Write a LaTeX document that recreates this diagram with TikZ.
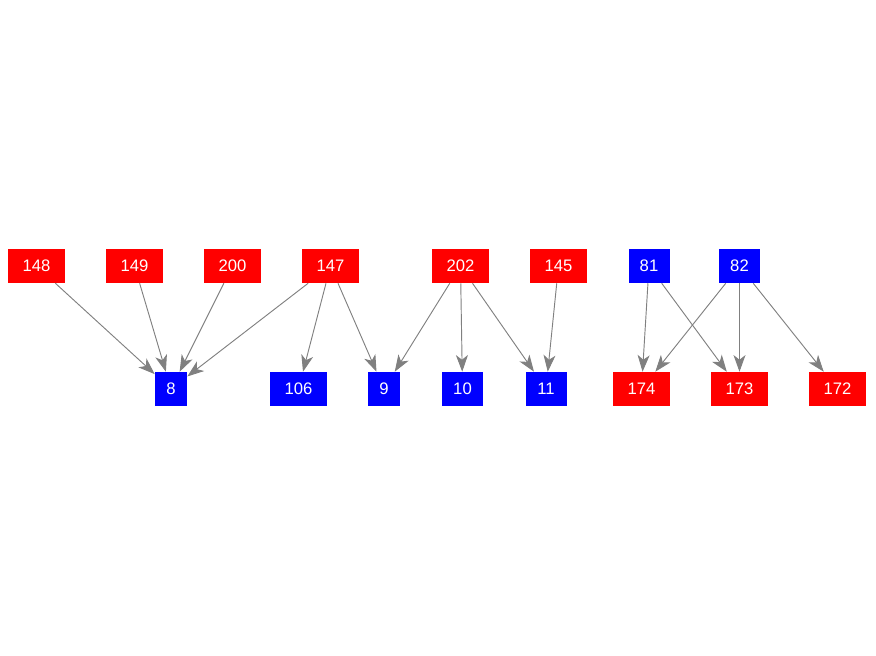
\documentclass[tikz,border=0pt]{standalone}
\usepackage{fontspec}
\setmainfont{Liberation Sans}
\usepackage{tikz}
\usetikzlibrary{arrows.meta}
\definecolor{nodered}{RGB}{255,0,0}
\definecolor{nodeblue}{RGB}{0,0,255}
\definecolor{edgegray}{RGB}{128,128,128}
\tikzset{
  % basic box
  box/.style={
    inner sep=0pt,
    minimum height=25.5pt,
    text=white,
    font=\fontsize{12.5}{14}\selectfont
  },
  % box widths
  wide/.style={box, minimum width=42.75pt},
  mid/.style={box, minimum width=30.75pt},
  narrow/.style={box, minimum width=24pt},
  % colours
  rednode/.style={fill=nodered},
  bluenode/.style={fill=nodeblue},
  % edge style
  edge/.style={-{Stealth[length=12.5pt, width=9pt, inset=3.5pt]}, edgegray, line width=0.7pt},
}
\begin{document}
\begin{tikzpicture}[x=0.75pt, y=-0.75pt]
    \useasboundingbox (0,0) rectangle (876,656);

    % Top row
    \node[wide, rednode] (n148) at (36.5, 266) {148};
    \node[wide, rednode] (n149) at (134.5, 266) {149};
    \node[wide, rednode] (n200) at (232.5, 266) {200};
    \node[wide, rednode] (n147) at (330.5, 266) {147};
    \node[wide, rednode] (n202) at (460.5, 266) {202};
    \node[wide, rednode] (n145) at (558.5, 266) {145};
    \node[mid, bluenode] (n81) at (649, 266) {81};
    \node[mid, bluenode] (n82) at (739.5, 266) {82};

    % Bottom row
    \node[narrow, bluenode] (n8) at (171, 389) {8};
    \node[wide, bluenode] (n106) at (298.5, 389) {106};
    \node[narrow, bluenode] (n9) at (384, 389) {9};
    \node[mid, bluenode] (n10) at (462.5, 389) {10};
    \node[mid, bluenode] (n11) at (546, 389) {11};
    \node[wide, rednode] (n174) at (641.5, 389) {174};
    \node[wide, rednode] (n173) at (739.5, 389) {173};
    \node[wide, rednode] (n172) at (837.5, 389) {172};

    % Edges
    \draw[edge] (n148) -- (n8);
    \draw[edge] (n149) -- (n8);
    \draw[edge] (n200) -- (n8);
    \draw[edge] (n147) -- (n8);
    \draw[edge] (n147) -- (n106);
    \draw[edge] (n147) -- (n9);
    \draw[edge] (n202) -- (n9);
    \draw[edge] (n202) -- (n10);
    \draw[edge] (n202) -- (n11);
    \draw[edge] (n145) -- (n11);
    \draw[edge] (n81) -- (n174);
    \draw[edge] (n81) -- (n173);
    \draw[edge] (n82) -- (n174);
    \draw[edge] (n82) -- (n173);
    \draw[edge] (n82) -- (n172);
\end{tikzpicture}
\end{document}
